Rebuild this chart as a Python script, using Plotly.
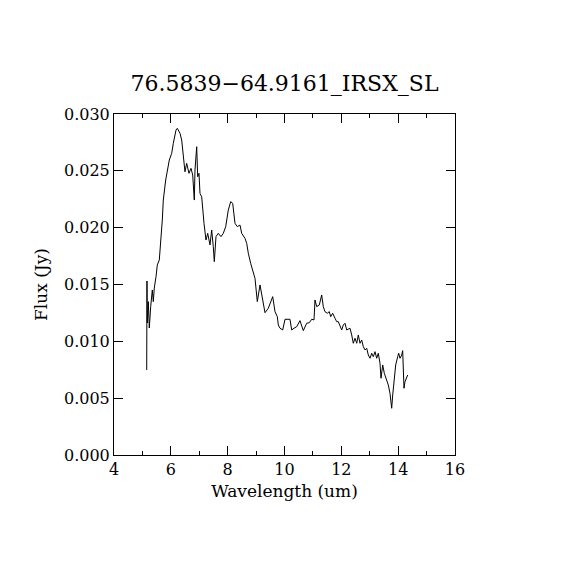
import plotly.graph_objects as go

# spectrum
wavelength = [
    5.151, 5.16, 5.172, 5.207, 5.242, 5.291, 5.348, 5.383, 5.418, 5.478,
    5.524, 5.594, 5.643, 5.700, 5.735, 5.819, 5.946, 6.030, 6.087, 6.182,
    6.228, 6.323, 6.382, 6.403, 6.439, 6.498, 6.558, 6.639, 6.710, 6.769,
    6.826, 6.850, 6.910, 6.945, 6.991, 7.026, 7.086, 7.121, 7.167, 7.237,
    7.297, 7.378, 7.438, 7.494, 7.530, 7.589, 7.670, 7.765, 7.846, 7.931,
    8.022, 8.107, 8.177, 8.258, 8.339, 8.434, 8.494, 8.610, 8.670, 8.726,
    8.810, 8.962, 9.043, 9.138, 9.233, 9.314, 9.430, 9.585, 9.666, 9.747,
    9.782, 9.842, 9.937, 10.018, 10.193, 10.253, 10.334, 10.429, 10.545, 10.662,
    10.781, 10.873, 10.957, 11.038, 11.073, 11.133, 11.225, 11.309, 11.365, 11.425,
    11.506, 11.576, 11.626, 11.696, 11.777, 11.837, 11.893, 11.953, 12.013, 12.069,
    12.129, 12.189, 12.305, 12.365, 12.421, 12.481, 12.541, 12.597, 12.657, 12.717,
    12.773, 12.833, 12.893, 12.949, 13.009, 13.069, 13.125, 13.185, 13.245, 13.301,
    13.361, 13.396, 13.456, 13.512, 13.572, 13.653, 13.712, 13.748, 13.772, 13.808,
    13.853, 13.913, 13.983, 14.019, 14.065, 14.124, 14.159, 14.180, 14.205, 14.240,
    14.300, 14.335,
]
flux = [
    0.00748, 0.01531, 0.01161, 0.01349, 0.01117, 0.01305, 0.01452, 0.01349, 0.01469, 0.01569,
    0.01672, 0.01716, 0.01862, 0.02067, 0.02243, 0.02419, 0.02595, 0.02654, 0.02742, 0.02859,
    0.02874, 0.02830, 0.02771, 0.02712, 0.02595, 0.02492, 0.02566, 0.02478, 0.02522, 0.02463,
    0.02243, 0.02507, 0.02712, 0.02448, 0.02478, 0.02302, 0.02272, 0.02155, 0.02038, 0.01891,
    0.01950, 0.01848, 0.01979, 0.01833, 0.01701, 0.01921, 0.01950, 0.01921, 0.01950, 0.02009,
    0.02155, 0.02229, 0.02214, 0.02038, 0.02009, 0.02023, 0.01950, 0.01906, 0.01862, 0.01775,
    0.01686, 0.01554, 0.01349, 0.01496, 0.01364, 0.01252, 0.01291, 0.01393, 0.01261, 0.01217,
    0.01144, 0.01115, 0.01100, 0.01194, 0.01194, 0.01100, 0.01115, 0.01129, 0.01182, 0.01094,
    0.01159, 0.01164, 0.01194, 0.01188, 0.01364, 0.01305, 0.01320, 0.01408, 0.01305, 0.01261,
    0.01247, 0.01261, 0.01217, 0.01247, 0.01203, 0.01173, 0.01173, 0.01129, 0.01100, 0.01144,
    0.01159, 0.01100, 0.01115, 0.01056, 0.00983, 0.01027, 0.00983, 0.01056, 0.00983, 0.01012,
    0.00953, 0.00924, 0.00939, 0.00880, 0.00851, 0.00895, 0.00865, 0.00909, 0.00851, 0.00895,
    0.00807, 0.00675, 0.00792, 0.00719, 0.00675, 0.00616, 0.00543, 0.00469, 0.00411, 0.00528,
    0.00660, 0.00792, 0.00865, 0.00895, 0.00851, 0.00880, 0.00918, 0.00748, 0.00587, 0.00645,
    0.00689, 0.00704,
]

x_ticks = [4, 6, 8, 10, 12, 14, 16]
y_ticks = [0.0, 0.005, 0.010, 0.015, 0.020, 0.025, 0.030]
y_tick_text = ["0.000", "0.005", "0.010", "0.015", "0.020", "0.025", "0.030"]

FONT = "DejaVu Serif"

fig = go.Figure(go.Scatter(x=wavelength, y=flux, mode="lines",
                           line=dict(color="black", width=1),
                           hoverinfo="skip"))

axis_style = dict(showgrid=False, zeroline=False, showline=True, linecolor="black",
                  linewidth=1, mirror="ticks", ticks="inside", ticklen=9,
                  tickcolor="black", tickwidth=1,
                  tickfont=dict(family=FONT, size=16, color="black"))

# the page puts the figure 8px in from the top-left corner
fig.update_layout(
    width=570, height=570,
    paper_bgcolor="white", plot_bgcolor="white",
    margin=dict(l=106, r=123, t=106, b=123),
    showlegend=False,
    title=dict(text="76.5839\u221264.9161_IRSX_SL", x=(106 + 170.5) / 570, xanchor="center",
               y=1 - 75 / 570, yanchor="middle",
               font=dict(family=FONT, size=22, color="black")),
    xaxis=dict(range=[4, 16], tickvals=x_ticks,
               minor=dict(dtick=1, ticks="inside", ticklen=4, tickcolor="black"),
               title=dict(text="Wavelength (um)", standoff=6,
                          font=dict(family=FONT, size=17, color="black")),
               **axis_style),
    yaxis=dict(range=[0, 0.030], tickvals=y_ticks, ticktext=y_tick_text,
               title=dict(text="Flux (Jy)", standoff=12,
                          font=dict(family=FONT, size=17, color="black")),
               **axis_style),
)

fig.write_html("out.html")
